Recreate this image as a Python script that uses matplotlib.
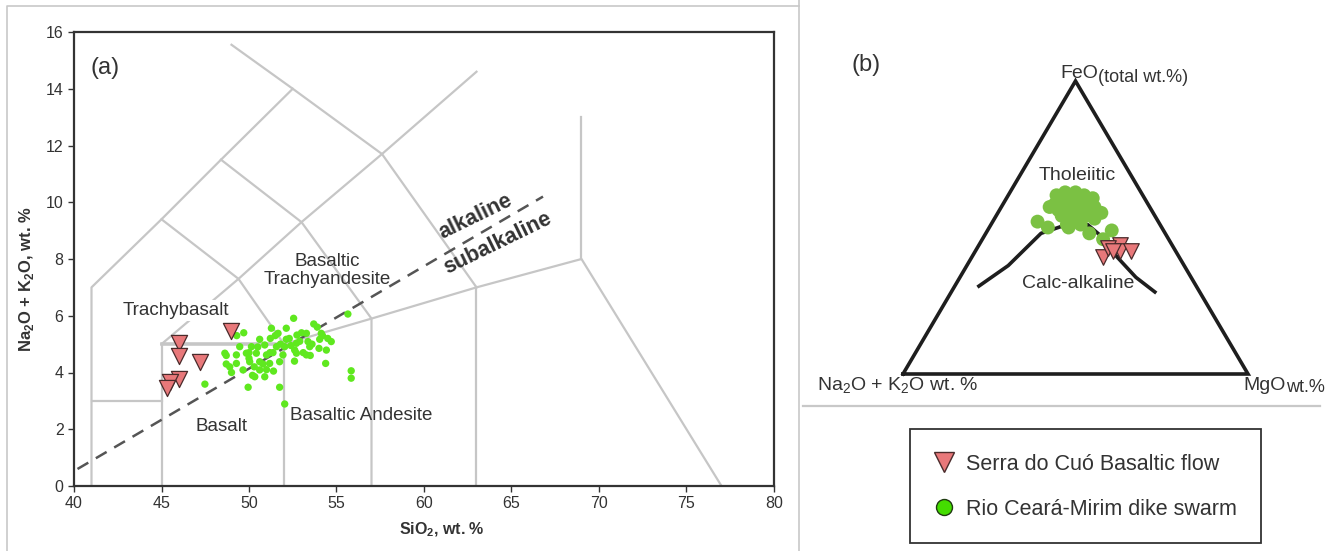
import numpy as np
import matplotlib.pyplot as plt
from matplotlib.lines import Line2D
from matplotlib.patches import Rectangle

plt.rcParams['font.family'] = ['Liberation Sans', 'DejaVu Sans']

# ---- TAS diagram (a) ----
# field boundaries, (SiO2, Na2O+K2O)
tas_lines = [
    [(41, 0), (41, 7), (45, 9.4), (48.4, 11.5), (52.5, 14), (49, 15.55)],
    [(52.5, 14), (57.6, 11.7), (63, 7), (69, 8), (77, 0)],
    [(69, 8), (69, 13)],
    [(41, 3), (45, 3)],
    [(45, 0), (45, 5)],
    [(52, 5), (57, 5.9), (63, 7)],
    [(52, 0), (52, 5)],
    [(57, 0), (57, 5.9), (53, 9.3), (48.4, 11.5)],
    [(63, 0), (63, 7)],
    [(45, 9.4), (49.4, 7.3), (52, 5)],
    [(45, 5), (49.4, 7.3), (53, 9.3), (57.6, 11.7), (63, 14.6)],
]
basalt_top = [(45, 5), (52, 5)]
alk_line = [(40.2, 0.6), (66.8, 10.2)]

# Serra do Cuo basaltic flow
cuo_sio2 = [49.0, 46.0, 46.0, 47.2, 46.0, 45.5, 45.3]
cuo_alk = [5.45, 5.03, 4.58, 4.38, 3.76, 3.66, 3.44]

# Rio Ceara-Mirim dike swarm
rcm_sio2 = [52.55, 55.65, 53.70, 51.28, 52.13, 49.70, 51.66, 52.74, 53.28, 54.13,
            54.70, 50.61, 51.22, 52.13, 52.71, 53.37, 54.04, 49.47, 50.14, 50.90,
            51.57, 52.04, 52.61, 53.47, 54.42, 48.62, 49.28, 49.85, 50.42, 51.00,
            51.37, 51.94, 52.71, 53.28, 50.04, 50.61, 51.18, 51.75, 50.61, 49.66,
            50.33, 50.90, 49.95, 51.75, 54.38, 55.84, 55.84, 47.48, 52.04, 49.28,
            48.90, 48.70, 48.70, 49.00, 49.30, 50.00, 50.30, 50.80, 51.00, 50.50,
            51.20, 52.30, 52.90, 53.10, 53.60, 54.20, 54.50, 53.00, 53.90, 51.80,
            52.40, 50.20, 51.40, 52.60, 53.50, 54.00, 50.00, 51.50]
rcm_alk = [5.91, 6.06, 5.71, 5.56, 5.56, 5.40, 5.38, 5.32, 5.38, 5.38,
           5.09, 5.17, 5.20, 5.17, 5.03, 5.09, 5.17, 4.91, 4.91, 4.97,
           4.91, 4.91, 4.79, 4.91, 4.79, 4.68, 4.62, 4.68, 4.68, 4.62,
           4.70, 4.62, 4.68, 4.62, 4.38, 4.38, 4.32, 4.38, 4.09, 4.09,
           3.85, 3.85, 3.48, 3.48, 4.32, 4.06, 3.80, 3.59, 2.89, 4.32,
           4.20, 4.60, 4.30, 4.00, 5.30, 4.50, 4.20, 4.30, 4.10, 4.90,
           4.70, 5.20, 5.10, 4.70, 5.00, 5.30, 5.20, 5.40, 5.60, 5.00,
           4.95, 3.90, 4.05, 4.40, 4.60, 4.85, 4.70, 5.30]

# ---- AFM diagram (b) ----  (A, F, M) in %
afm_curve_a = [63, 51, 36, 27, 21, 19, 18, 16, 13]
afm_curve_f = [30, 37, 48, 51, 51, 47, 40, 33, 28]
afm_curve_m = [7, 12, 16, 22, 28, 34, 42, 51, 59]

rcm_a = [25, 22, 19, 17, 15, 27, 25, 22, 20, 18, 16, 27, 25, 22, 20, 18, 27, 25,
         23, 20, 25, 23, 27, 29, 35, 33, 27, 18, 22, 15, 19, 15]
rcm_f = [61, 62, 62, 61, 60, 58, 59, 59, 59, 58, 57, 56, 56, 57, 56, 55, 54, 54,
         53, 54, 52, 51, 51, 57, 52, 50, 50, 53, 48, 49, 46, 55]
rcm_m = [14, 16, 19, 22, 25, 15, 16, 19, 21, 24, 27, 17, 19, 21, 24, 27, 19, 21,
         24, 26, 23, 26, 22, 14, 13, 17, 23, 29, 30, 36, 35, 30]

cuo_a = [22, 18, 15, 16, 13, 19, 18]
cuo_f = [40, 43, 44, 42, 42, 43, 42]
cuo_m = [38, 39, 41, 42, 45, 38, 40]

W, H = 1335, 551


def fx(px):
    return px / W


def fy(py):
    return 1 - py / H


def tern(a, f, m):
    a, f, m = np.asarray(a, float), np.asarray(f, float), np.asarray(m, float)
    s = a + f + m
    return (m + f / 2) / s, f / s


fig = plt.figure(figsize=(W / 100, H / 100), dpi=100)
fig.patch.set_facecolor('white')

txt = '#333333'
gray = '#c6c6c6'
red_face = '#e8787a'
red_edge = '#4a2b2b'

# ---------------- panel (a) ----------------
ax = fig.add_axes([fx(74), fy(486), 700 / W, 454 / H])
for seg in tas_lines:
    xs, ys = zip(*seg)
    ax.plot(xs, ys, color=gray, lw=1.6, zorder=1)
xs, ys = zip(*basalt_top)
ax.plot(xs, ys, color=gray, lw=2.6, zorder=1)
xs, ys = zip(*alk_line)
ax.plot(xs, ys, color='#555555', lw=1.8, dashes=(5, 3.5), zorder=2)

ax.scatter(rcm_sio2, rcm_alk, s=28, color='#5fe81f', edgecolors='none', zorder=3)
ax.scatter(cuo_sio2, cuo_alk, s=135, marker='v', color=red_face,
           edgecolors=red_edge, linewidths=0.9, zorder=4)

lab_box = dict(facecolor='white', edgecolor='none', pad=1.5)
ax.text(45.82, 6.2, 'Trachybasalt', fontsize=13.5, color=txt, ha='center',
        va='center', bbox=lab_box, zorder=5)
ax.text(54.5, 7.6, 'Basaltic\nTrachyandesite', fontsize=13.5, color=txt,
        ha='center', va='center', linespacing=1.1, zorder=5)
ax.text(48.45, 2.11, 'Basalt', fontsize=13.5, color=txt, ha='center', va='center')
ax.text(56.43, 2.47, 'Basaltic Andesite', fontsize=13.5, color=txt,
        ha='center', va='center')
ax.text(41.77, 14.73, '(a)', fontsize=17, color=txt, ha='center', va='center')
ax.text(62.94, 9.48, 'alkaline', fontsize=15.5, fontweight='bold', color=txt,
        rotation=26, ha='center', va='center', rotation_mode='anchor')
ax.text(64.19, 8.56, 'subalkaline', fontsize=15.5, fontweight='bold', color=txt,
        rotation=26, ha='center', va='center', rotation_mode='anchor')

ax.set_xlim(40, 80)
ax.set_ylim(0, 16)
ax.set_xticks(np.arange(40, 81, 5))
ax.set_yticks(np.arange(0, 17, 2))
ax.tick_params(direction='out', length=4, width=1, colors=txt, labelsize=11.5)
for sp in ax.spines.values():
    sp.set_color('#333333')
    sp.set_linewidth(1.6)
ax.set_xlabel('SiO$_\\mathregular{2}$, wt. %', fontsize=11.5, fontweight='bold',
              color=txt)
ax.set_ylabel('Na$_\\mathregular{2}$O + K$_\\mathregular{2}$O, wt. %', fontsize=12,
              fontweight='bold', color=txt)
ax.xaxis.set_label_coords((442 - 74) / 700, -0.077)
ax.yaxis.set_label_coords((36 - 74) / 700, (486 - 279) / 454)

# ---------------- panel (b) ----------------
ax2 = fig.add_axes([fx(903), fy(374), 345 / W, 293 / H])
ax2.set_xlim(0, 1)
ax2.set_ylim(0, 1)
ax2.axis('off')
tx, ty = tern([100, 0, 0, 100], [0, 0, 100, 0], [0, 100, 0, 0])
ax2.plot(tx, ty, color='#1e1e1e', lw=2.6, clip_on=False, solid_joinstyle='miter')
cx, cy = tern(afm_curve_a, afm_curve_f, afm_curve_m)
ax2.plot(cx, cy, color='#1e1e1e', lw=2.6, clip_on=False, zorder=2)
gx, gy = tern(rcm_a, rcm_f, rcm_m)
ax2.scatter(gx, gy, s=100, color='#7bc143', edgecolors='none', clip_on=False, zorder=3)
rx, ry = tern(cuo_a, cuo_f, cuo_m)
ax2.scatter(rx, ry, s=125, marker='v', color=red_face, edgecolors=red_edge,
            linewidths=0.9, clip_on=False, zorder=4)

fig.text(fx(866), fy(65), '(b)', fontsize=17, color=txt, ha='center', va='center')
fig.text(fx(1098), fy(74), 'FeO', fontsize=14, color=txt, ha='right', va='center')
fig.text(fx(1098), fy(78), '(total wt.%)', fontsize=13, color=txt, ha='left', va='center')
fig.text(fx(1077), fy(176), 'Tholeiitic', fontsize=14, color=txt, ha='center', va='center')
fig.text(fx(1078), fy(283), 'Calc-alkaline', fontsize=14, color=txt, ha='center', va='center')
fig.text(fx(817), fy(386), 'Na$_\\mathregular{2}$O + K$_\\mathregular{2}$O wt. %',
         fontsize=14, color=txt, ha='left', va='center')
fig.text(fx(1286), fy(386), 'MgO', fontsize=14, color=txt, ha='right', va='center')
fig.text(fx(1286), fy(388), 'wt.%', fontsize=13, color=txt, ha='left', va='center')

# legend
fig.add_artist(Rectangle((fx(910), fy(543)), 351 / W, 114 / H, transform=fig.transFigure,
                         facecolor='white', edgecolor='#333333', lw=1.3))
handles = [
    Line2D([], [], ls='none', marker='v', ms=14, mfc=red_face, mec=red_edge, mew=1.0,
           label='Serra do Cuó Basaltic flow'),
    Line2D([], [], ls='none', marker='o', ms=11.5, mfc='#44dd00', mec='#1e3a10', mew=1.0,
           label='Rio Ceará-Mirim dike swarm'),
]
fig.legend(handles=handles, loc='upper left', bbox_to_anchor=(fx(934), fy(454)),
           frameon=False, fontsize=15.5, borderpad=0, borderaxespad=0,
           handlelength=0.95, handletextpad=0.55, labelspacing=1.1, labelcolor=txt)

# panel frames
fig.add_artist(Line2D([fx(7), fx(7), fx(799)], [0, fy(6), fy(6)],
                      transform=fig.transFigure, color='#c8c8c8', lw=1.2))
fig.add_artist(Line2D([fx(799), fx(799)], [0, 1], transform=fig.transFigure,
                      color='#c8c8c8', lw=1.2))
fig.add_artist(Line2D([fx(803), fx(1320)], [fy(406), fy(406)], transform=fig.transFigure,
                      color='#c8c8c8', lw=1.6))

fig.savefig('out.png', dpi=100)
